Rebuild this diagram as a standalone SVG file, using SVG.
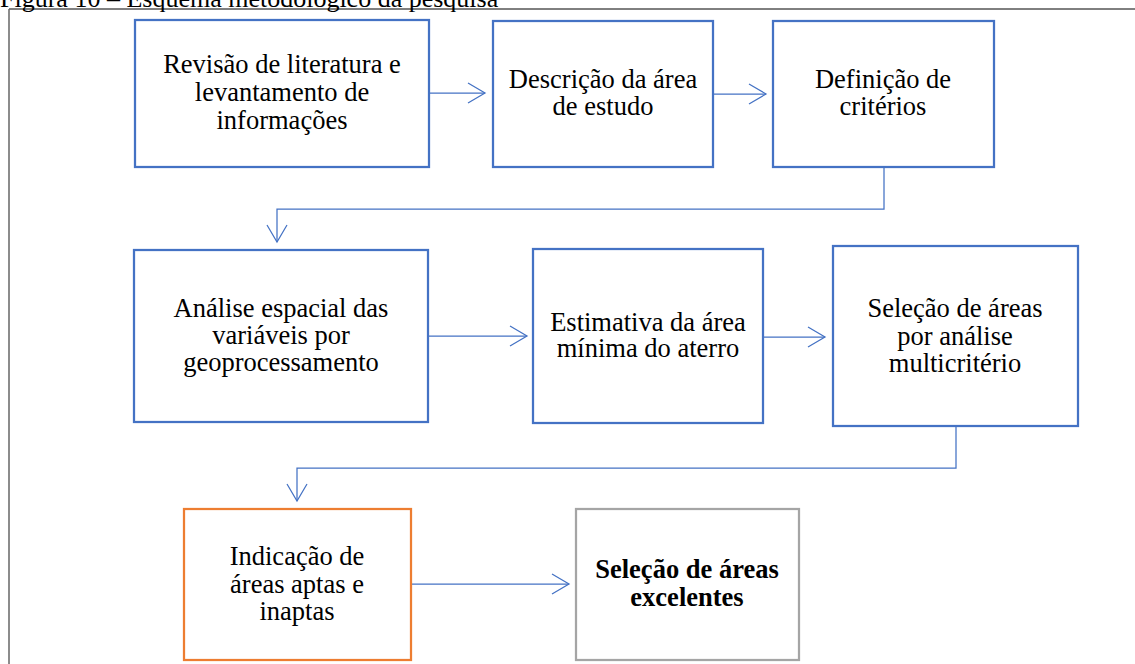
<svg xmlns="http://www.w3.org/2000/svg" width="1135" height="664" viewBox="0 0 1135 664">
<defs>
<style>
.box{fill:#fff;stroke:#4472C4;stroke-width:2.25}
.orange{fill:#fff;stroke:#ED7D31;stroke-width:2.25}
.gray{fill:#fff;stroke:#A5A5A5;stroke-width:2.25}
.conn{fill:none;stroke:#4472C4;stroke-width:1.25}
</style>
<marker id="arr" markerUnits="userSpaceOnUse" markerWidth="20" markerHeight="24" refX="18" refY="11" orient="auto" viewBox="0 0 20 22">
<path d="M1,1 L18,11 L1,21" fill="none" stroke="#4472C4" stroke-width="1.25"/>
</marker>
</defs>
<rect x="0" y="0" width="1135" height="664" fill="#fff"/>
<text x="0" y="7" font-family="Liberation Serif, Times New Roman, serif" font-size="26" fill="#000">Figura 10 – Esquema metodológico da pesquisa</text>
<g id="frame" fill="none">
<line x1="9" y1="9" x2="1135" y2="9" stroke="#000" stroke-width="1"/>
<line x1="9" y1="9" x2="9" y2="664" stroke="#666" stroke-width="1.5"/>
</g>
<g id="connectors">
<line class="conn" x1="429" y1="93" x2="485" y2="93" marker-end="url(#arr)"/>
<line class="conn" x1="713" y1="94" x2="766" y2="94" marker-end="url(#arr)"/>
<polyline class="conn" points="884,167 884,209 277,209 277,242" marker-end="url(#arr)"/>
<line class="conn" x1="428" y1="336" x2="527" y2="336" marker-end="url(#arr)"/>
<line class="conn" x1="763" y1="337" x2="825" y2="337" marker-end="url(#arr)"/>
<polyline class="conn" points="956,426 956,468 297,468 297,501" marker-end="url(#arr)"/>
<line class="conn" x1="411" y1="584" x2="569" y2="584" marker-end="url(#arr)"/>
</g>
<g font-family="Liberation Serif, Times New Roman, serif" font-size="26.5" fill="#000" text-anchor="middle">
<g id="n1">
<rect class="box" x="135" y="20" width="294" height="147"/>
<text x="282" y="73">Revisão de literatura e</text>
<text x="282" y="101">levantamento de</text>
<text x="282" y="129">informações</text>
</g>
<g id="n2">
<rect class="box" x="493" y="21" width="220" height="146"/>
<text x="603" y="88">Descrição da área</text>
<text x="603" y="115">de estudo</text>
</g>
<g id="n3">
<rect class="box" x="773" y="21" width="221" height="146"/>
<text x="883" y="88">Definição de</text>
<text x="883" y="115">critérios</text>
</g>
<g id="n4">
<rect class="box" x="134" y="250" width="294" height="172"/>
<text x="281" y="317">Análise espacial das</text>
<text x="281" y="344">variáveis por</text>
<text x="281" y="371">geoprocessamento</text>
</g>
<g id="n5">
<rect class="box" x="533" y="249" width="230" height="174"/>
<text x="648" y="331">Estimativa da área</text>
<text x="648" y="357">mínima do aterro</text>
</g>
<g id="n6">
<rect class="box" x="833" y="246" width="245" height="180"/>
<text x="955" y="317">Seleção de áreas</text>
<text x="955" y="345">por análise</text>
<text x="955" y="372">multicritério</text>
</g>
<g id="n7">
<rect class="orange" x="184" y="509" width="227" height="151"/>
<text x="297" y="565">Indicação de</text>
<text x="297" y="593">áreas aptas e</text>
<text x="297" y="620">inaptas</text>
</g>
<g id="n8">
<rect class="gray" x="576" y="509" width="223" height="151"/>
<text x="687" y="578" font-weight="bold">Seleção de áreas</text>
<text x="687" y="606" font-weight="bold">excelentes</text>
</g>
</g>
</svg>
